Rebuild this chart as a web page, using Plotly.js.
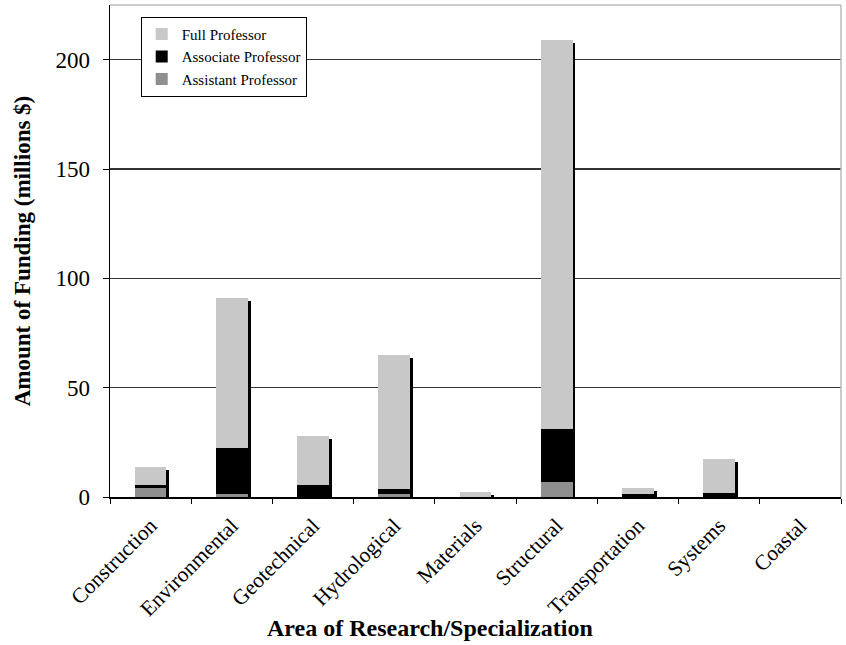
<!DOCTYPE html>
<html><head><meta charset="utf-8">
<script src="https://cdn.plot.ly/plotly-3.0.1.min.js"></script>
<style>body{margin:0;background:#fff}#c{width:846px;height:645px}</style>
</head><body><div id="c"></div>
<script>
const categories = ["Construction","Environmental","Geotechnical","Hydrological","Materials","Structural","Transportation","Systems","Coastal"];
const seriesNames = ["Assistant Professor","Associate Professor","Full Professor"];
const assistant = [4.2, 1.5, 0, 1.2, 0, 7, 0, 0, 0];
const associate = [1.3, 21, 5.3, 2.4, 0, 24, 1.2, 1.7, 0];
const full      = [8.1, 68.5, 22.7, 61.4, 2.1, 178, 2.8, 15.8, 0];

const totals = categories.map((c,i)=>assistant[i]+associate[i]+full[i]);
const shadow = totals.map(t=>t>0?Math.max(t-1.4,0.6):0);

const font = "Liberation Serif";
const lbl = s => '<span style="font-family:\'Liberation Serif\',serif">'+s+'</span>';
const W = 0.39;
const traces = [
  {type:'bar', name:lbl(seriesNames[0]), x:categories, y:assistant, width:W, marker:{color:'#8f8f8f'}},
  {type:'bar', name:lbl(seriesNames[1]), x:categories, y:associate, width:W, marker:{color:'#000000'}},
  {type:'bar', name:lbl(seriesNames[2]), x:categories, y:full, width:W, marker:{color:'#c8c8c8'}},
  {type:'bar', name:'shadow', x:categories, y:shadow, width:0.035, offset:W/2, xaxis:'x2', showlegend:false, marker:{color:'#000'}, hoverinfo:'skip'}
];
const layout = {
  width:846, height:645,
  margin:{l:110, r:5, t:5, b:148},
  paper_bgcolor:'#fff', plot_bgcolor:'#fff',
  barmode:'stack', bargap:0.6,
  font:{family:font, color:'#000'},
  showlegend:true,
  legend:{x:0.042, y:0.976, xanchor:'left', yanchor:'top', bgcolor:'#fff', bordercolor:'#000', borderwidth:1,
          font:{size:15, family:'Liberation Serif, serif', color:'#000'}, traceorder:'reversed', itemwidth:30, tracegroupgap:0},
  xaxis:{type:'category', range:[-0.5,8.5], tickson:'boundaries', ticks:'outside', ticklen:5, tickcolor:'#000',
         showline:true, linecolor:'#000', linewidth:1.5, showgrid:false, tickangle:-45, ticklabelstandoff:6,
         tickfont:{size:21.5, family:font}, mirror:false, fixedrange:true},
  xaxis2:{type:'category', range:[-0.5,8.5], overlaying:'x', visible:false, matches:'x'},
  yaxis:{range:[0,225], tickvals:[0,50,100,150,200], ticks:'outside', ticklen:6, tickcolor:'#000',
         showline:true, linecolor:'#000', linewidth:1.5, showgrid:true, gridcolor:'#333', gridwidth:1.5,
         zeroline:false, tickfont:{size:23, family:font}, ticklabelstandoff:8,
         title:{text:'<b>Amount of Funding (millions $)</b>', font:{size:23, family:font}, standoff:18}},
  shapes:[
    {type:'line', xref:'paper', yref:'paper', x0:0, x1:1, y0:1, y1:1, line:{color:'#bbb', width:1.5}},
    {type:'line', xref:'paper', yref:'paper', x0:1, x1:1, y0:0, y1:1, line:{color:'#bbb', width:1.5}}
  ],
  annotations:[
    {text:'<b>Area of Research/Specialization</b>', xref:'paper', yref:'paper', x:0.438, y:0, yshift:-131,
     showarrow:false, xanchor:'center', yanchor:'middle', font:{size:24, family:font}}
  ]
};
Plotly.newPlot('c', traces, layout, {displayModeBar:false, staticPlot:true});
</script></body></html>
